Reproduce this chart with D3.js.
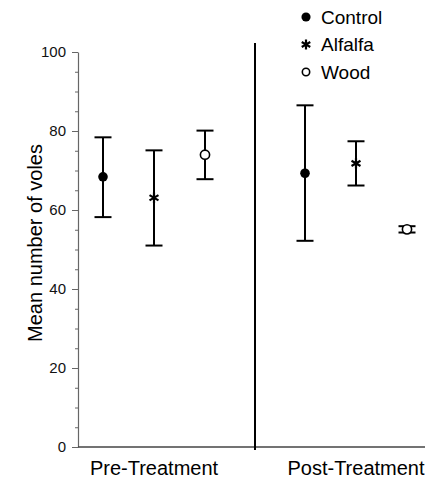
<!DOCTYPE html>
<html lang="en">
<head>
<meta charset="UTF-8">
<title>Voles</title>
<script src="https://d3js.org/d3.v7.min.js"></script>
<style>
  body { margin: 0; background: #fff; }
  svg { display: block; font-family: "Liberation Sans", Arial, sans-serif; }
  .axis path, .axis line { stroke: #666; }
  .axis text { font-size: 15px; fill: #111; }
  .bar { stroke: #000; stroke-width: 2px; fill: none; }
</style>
</head>
<body>
<svg width="425" height="480"></svg>
<script>
var groups = ["Pre-Treatment", "Post-Treatment"];
var series = ["Control", "Alfalfa", "Wood"];
var means = {
  "Control": [68.4, 69.3],
  "Alfalfa": [63.1, 71.8],
  "Wood":    [74.0, 55.1]
};
var lower = {
  "Control": [58.2, 52.2],
  "Alfalfa": [51.0, 66.2],
  "Wood":    [67.8, 54.3]
};
var upper = {
  "Control": [78.4, 86.5],
  "Alfalfa": [75.1, 77.4],
  "Wood":    [80.1, 55.9]
};
var yTicks = [0, 20, 40, 60, 80, 100];
var yMinor = d3.range(0, 101, 5);

var svg = d3.select("svg");

var y = d3.scaleLinear().domain([0, 100]).range([447, 52]);
var x = d3.scaleBand().domain(groups).range([53, 457]);
var off = d3.scalePoint().domain(series).range([-51, 51]);

var rows = [];
series.forEach(function (s) {
  groups.forEach(function (g, i) {
    rows.push({ s: s, g: g, m: means[s][i], lo: lower[s][i], hi: upper[s][i] });
  });
});
function cx(d) { return x(d.g) + x.bandwidth() / 2 + off(d.s); }

// minor ticks
svg.append("g").attr("class", "axis")
  .attr("transform", "translate(78,0)")
  .call(d3.axisLeft(y).tickValues(yMinor).tickSize(3).tickFormat(""))
  .call(g => g.select(".domain").remove());

// major ticks
svg.append("g").attr("class", "axis")
  .attr("transform", "translate(78,0)")
  .call(d3.axisLeft(y).tickValues(yTicks).tickSize(6).tickSizeOuter(0).tickPadding(6))
  .call(g => g.select(".domain").attr("stroke-width", 1.2));

// x axis line
svg.append("line")
  .attr("x1", 78).attr("x2", 425)
  .attr("y1", y(0)).attr("y2", y(0))
  .attr("stroke", "#444").attr("stroke-width", 1.5);

// divider between groups
svg.append("line")
  .attr("x1", x(groups[1])).attr("x2", x(groups[1]))
  .attr("y1", 43).attr("y2", y(0) + 3)
  .attr("stroke", "#000").attr("stroke-width", 2);

// group labels
svg.selectAll("text.grp").data(groups).enter().append("text")
  .attr("class", "grp")
  .attr("x", d => x(d) + x.bandwidth() / 2)
  .attr("y", 475)
  .attr("text-anchor", "middle")
  .attr("font-size", 20)
  .text(d => d);

// y title
svg.append("text")
  .attr("transform", "translate(42,243) rotate(-90)")
  .attr("text-anchor", "middle")
  .attr("font-size", 20)
  .text("Mean number of voles");

// error bars
var eb = svg.append("g").selectAll("g").data(rows).enter().append("g");
eb.append("line").attr("class", "bar")
  .attr("x1", cx).attr("x2", cx)
  .attr("y1", d => y(d.lo)).attr("y2", d => y(d.hi));
eb.append("line").attr("class", "bar")
  .attr("x1", d => cx(d) - 8.5).attr("x2", d => cx(d) + 8.5)
  .attr("y1", d => y(d.hi)).attr("y2", d => y(d.hi));
eb.append("line").attr("class", "bar")
  .attr("x1", d => cx(d) - 8.5).attr("x2", d => cx(d) + 8.5)
  .attr("y1", d => y(d.lo)).attr("y2", d => y(d.lo));

function marker(sel, s, scale) {
  if (s === "Control") {
    sel.append("circle").attr("r", 4.8 * scale).attr("fill", "#000");
  } else if (s === "Wood") {
    sel.append("circle").attr("r", 4.6 * scale).attr("fill", "#fff")
      .attr("stroke", "#000").attr("stroke-width", 1.6);
  } else {
    sel.append("path")
      .attr("d", d3.symbol(d3.symbolAsterisk, 75 * scale * scale)())
      .attr("fill", "none").attr("stroke", "#000").attr("stroke-width", 2.2);
  }
}

eb.each(function (d) {
  var g = d3.select(this).append("g")
    .attr("transform", "translate(" + cx(d) + "," + y(d.m) + ")");
  marker(g, d.s, 1);
});

// legend
var leg = svg.append("g").selectAll("g").data(series).enter().append("g")
  .attr("transform", (d, i) => "translate(306," + (17 + i * 27.5) + ")");
leg.each(function (d) { marker(d3.select(this), d, d === "Wood" ? 0.8 : 0.95); });
leg.append("text")
  .attr("x", 15).attr("dy", "0.35em")
  .attr("font-size", 19)
  .text(d => d);
</script>
</body>
</html>
